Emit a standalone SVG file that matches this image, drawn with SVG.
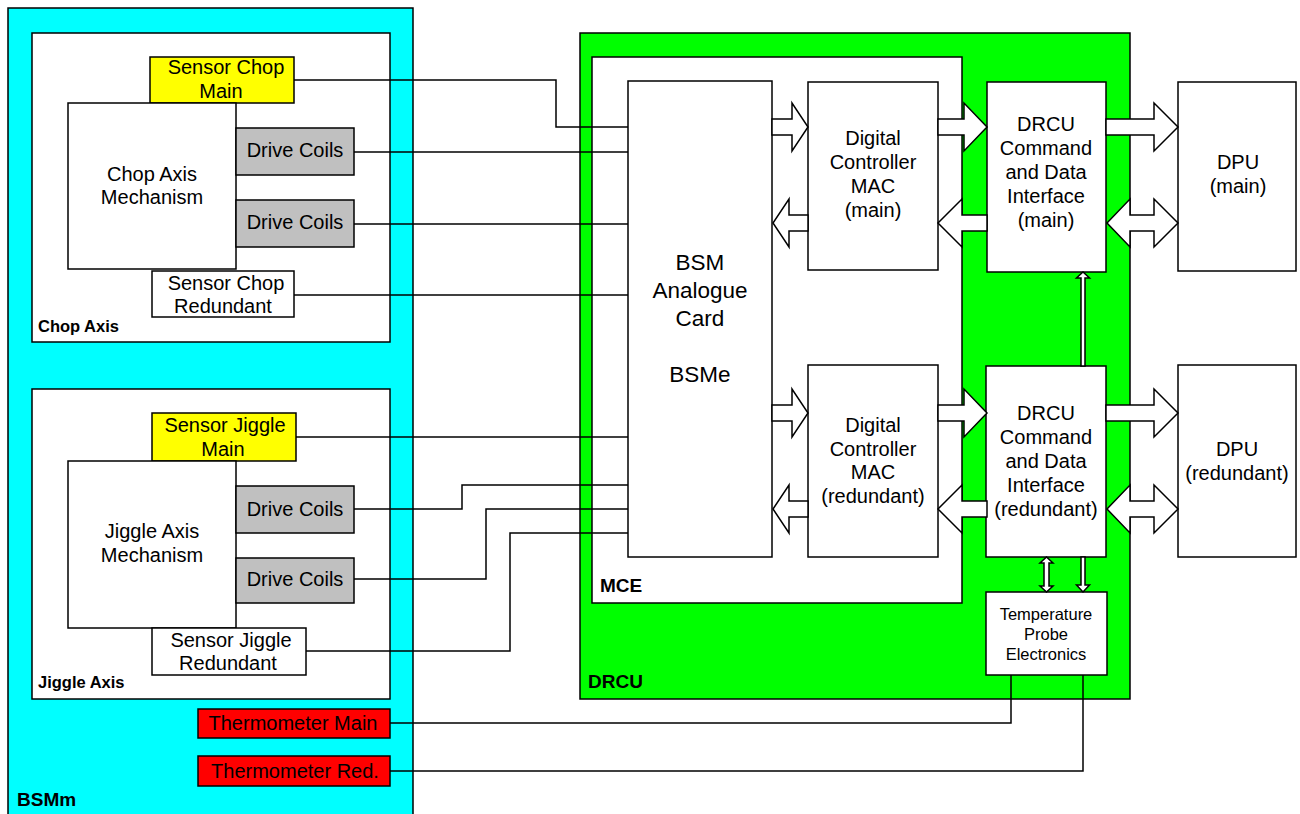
<svg xmlns="http://www.w3.org/2000/svg" width="1300" height="814" viewBox="0 0 1300 814">
<style>
.bx{stroke:#000;stroke-width:1.5}
.w{fill:#fff}.cy{fill:#00ffff}.gr{fill:#00ff00}.ye{fill:#ffff00}.gy{fill:#c0c0c0}.rd{fill:#ff0000}
.t{font-family:"Liberation Sans",Arial,sans-serif;font-size:20px;text-anchor:middle;fill:#000}
.s{font-size:16.5px}
.L{font-size:22.5px}
.b{font-family:"Liberation Sans",Arial,sans-serif;font-weight:bold;font-size:19px;fill:#000}
.bs{font-size:16.5px}
.ln{fill:none;stroke:#000;stroke-width:1.5}
.ar{fill:#fff;stroke:#000;stroke-width:1.5;stroke-linejoin:miter}
</style>
<rect width="1300" height="814" fill="#fff"/>
<g id="BSMm">
<rect class="bx cy" x="8" y="8" width="405" height="830"/>
<text class="b" x="17" y="806">BSMm</text>
</g>
<g id="ChopAxis">
<rect class="bx w" x="32" y="33" width="358" height="309"/>
<text class="b bs" x="38" y="332">Chop Axis</text>
</g>
<g id="SensorChopMain">
<rect class="bx ye" x="150" y="57" width="144" height="46"/>
<text class="t" x="226" y="74">Sensor Chop</text><text class="t" x="221" y="98">Main</text>
</g>
<g id="ChopMech">
<rect class="bx w" x="68" y="103" width="168" height="166"/>
<text class="t" x="152" y="181">Chop Axis</text><text class="t" x="152" y="204">Mechanism</text>
</g>
<g id="ChopCoils1">
<rect class="bx gy" x="236" y="128" width="118" height="47"/>
<text class="t" x="295" y="157">Drive Coils</text>
</g>
<g id="ChopCoils2">
<rect class="bx gy" x="236" y="200" width="118" height="47"/>
<text class="t" x="295" y="229">Drive Coils</text>
</g>
<g id="SensorChopRed">
<rect class="bx w" x="152" y="271" width="142" height="46"/>
<text class="t" x="226" y="290">Sensor Chop</text><text class="t" x="223" y="313">Redundant</text>
</g>
<g id="JiggleAxis">
<rect class="bx w" x="32" y="389" width="358" height="310"/>
<text class="b bs" x="38" y="688">Jiggle Axis</text>
</g>
<g id="SensorJiggleMain">
<rect class="bx ye" x="152" y="413" width="144" height="48"/>
<text class="t" x="225" y="432">Sensor Jiggle</text><text class="t" x="223" y="456">Main</text>
</g>
<g id="JiggleMech">
<rect class="bx w" x="68" y="461" width="168" height="167"/>
<text class="t" x="152" y="538">Jiggle Axis</text><text class="t" x="152" y="562">Mechanism</text>
</g>
<g id="JiggleCoils1">
<rect class="bx gy" x="236" y="486" width="118" height="47"/>
<text class="t" x="295" y="516">Drive Coils</text>
</g>
<g id="JiggleCoils2">
<rect class="bx gy" x="236" y="558" width="118" height="45"/>
<text class="t" x="295" y="586">Drive Coils</text>
</g>
<g id="SensorJiggleRed">
<rect class="bx w" x="152" y="628" width="154" height="47"/>
<text class="t" x="231" y="647">Sensor Jiggle</text><text class="t" x="228" y="670">Redundant</text>
</g>
<g id="ThermoMain">
<rect class="bx rd" x="198" y="709" width="192" height="29"/>
<text class="t" x="293" y="730">Thermometer Main</text>
</g>
<g id="ThermoRed">
<rect class="bx rd" x="198" y="756" width="192" height="30"/>
<text class="t" x="295" y="778">Thermometer Red.</text>
</g>
<g id="DRCU">
<rect class="bx gr" x="580" y="33" width="550" height="666"/>
<text class="b" x="588" y="688">DRCU</text>
</g>
<g id="MCE">
<rect class="bx w" x="592" y="57" width="370" height="546"/>
<text class="b" x="600" y="592">MCE</text>
</g>
<g id="BSMe">
<rect class="bx w" x="628" y="81" width="144" height="476"/>
<text class="t L" x="700" y="270">BSM</text><text class="t L" x="700" y="298">Analogue</text><text class="t L" x="700" y="326">Card</text><text class="t L" x="700" y="382">BSMe</text>
</g>
<g id="DCMmain">
<rect class="bx w" x="808" y="82" width="130" height="188"/>
<text class="t" x="873" y="145">Digital</text><text class="t" x="873" y="169">Controller</text><text class="t" x="873" y="193">MAC</text><text class="t" x="873" y="217">(main)</text>
</g>
<g id="DCMred">
<rect class="bx w" x="808" y="365" width="130" height="192"/>
<text class="t" x="873" y="432">Digital</text><text class="t" x="873" y="456">Controller</text><text class="t" x="873" y="479">MAC</text><text class="t" x="873" y="503">(redundant)</text>
</g>
<g id="CDImain">
<rect class="bx w" x="987" y="82" width="119" height="190"/>
<text class="t" x="1046" y="131">DRCU</text><text class="t" x="1046" y="155">Command</text><text class="t" x="1046" y="179">and Data</text><text class="t" x="1046" y="203">Interface</text><text class="t" x="1046" y="227">(main)</text>
</g>
<g id="CDIred">
<rect class="bx w" x="986" y="366" width="120" height="191"/>
<text class="t" x="1046" y="420">DRCU</text><text class="t" x="1046" y="444">Command</text><text class="t" x="1046" y="468">and Data</text><text class="t" x="1046" y="492">Interface</text><text class="t" x="1046" y="516">(redundant)</text>
</g>
<g id="TempProbe">
<rect class="bx w" x="986" y="592" width="121" height="83"/>
<text class="t s" x="1046" y="620">Temperature</text><text class="t s" x="1046" y="640">Probe</text><text class="t s" x="1046" y="660">Electronics</text>
</g>
<g id="DPUmain">
<rect class="bx w" x="1178" y="82" width="118" height="189"/>
<text class="t" x="1238" y="169">DPU</text><text class="t" x="1238" y="193">(main)</text>
</g>
<g id="DPUred">
<rect class="bx w" x="1178" y="365" width="118" height="192"/>
<text class="t" x="1237" y="456">DPU</text><text class="t" x="1237" y="480">(redundant)</text>
</g>
<g id="connectors">
<polygon class="ar" points="772,119 792,119 792,103 808,127 792,151 792,135 772,135"/>
<polygon class="ar" points="808,215 789,215 789,199 773,223 789,247 789,231 808,231"/>
<polygon class="ar" points="938,119 964,119 964,103 987,127 964,151 964,135 938,135"/>
<polygon class="ar" points="987,215 962,215 962,199 938,223 962,247 962,231 987,231"/>
<polygon class="ar" points="1106,119 1154,119 1154,103 1178,127 1154,151 1154,135 1106,135"/>
<polygon class="ar" points="1107,223 1130,199 1130,215 1154,215 1154,199 1178,223 1154,247 1154,231 1130,231 1130,247"/>
<polygon class="ar" points="772,405 792,405 792,389 808,413 792,437 792,421 772,421"/>
<polygon class="ar" points="808,501 789,501 789,485 773,509 789,533 789,517 808,517"/>
<polygon class="ar" points="938,405 964,405 964,389 987,413 964,437 964,421 938,421"/>
<polygon class="ar" points="987,501 962,501 962,485 938,509 962,533 962,517 987,517"/>
<polygon class="ar" points="1106,405 1154,405 1154,389 1178,413 1154,437 1154,421 1106,421"/>
<polygon class="ar" points="1107,509 1130,485 1130,501 1154,501 1154,485 1178,509 1154,533 1154,517 1130,517 1130,533"/>
<polygon class="ar" stroke-width="1.2" points="1081,366 1081,278 1076.5,278 1083,272 1089.5,278 1085,278 1085,366"/>
<polygon class="ar" stroke-width="1.2" points="1046.5,557 1053,563 1049,563 1049,586 1053,586 1046.5,592 1040,586 1044,586 1044,563 1040,563"/>
<polygon class="ar" stroke-width="1.2" points="1081,557 1085,557 1085,585 1089.5,585 1083,592 1076.5,585 1081,585"/>
<path class="ln" d="M294,80 H556 V127 H628"/>
<path class="ln" d="M354,152 H628"/>
<path class="ln" d="M354,224 H628"/>
<path class="ln" d="M294,295 H628"/>
<path class="ln" d="M296,437 H628"/>
<path class="ln" d="M354,509 H462 V485 H628"/>
<path class="ln" d="M354,579 H486 V509 H628"/>
<path class="ln" d="M306,651 H510 V533 H628"/>
<path class="ln" d="M390,723 H1011 V675"/>
<path class="ln" d="M390,771 H1083 V675"/>
</g>
</svg>
